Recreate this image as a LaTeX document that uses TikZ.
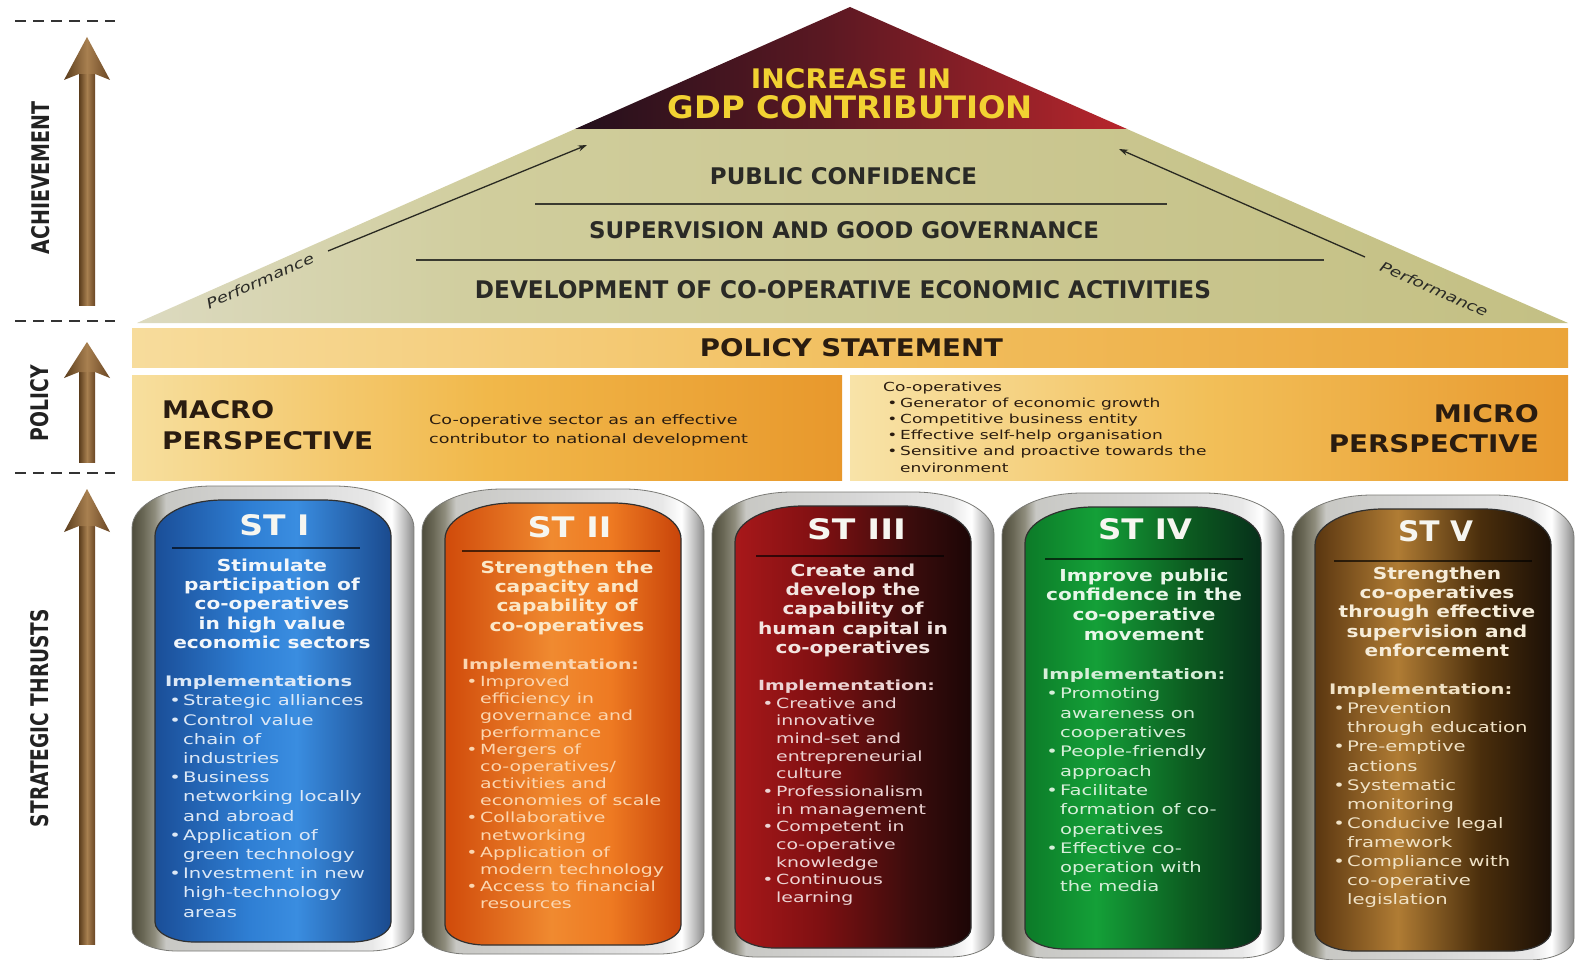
\documentclass[tikz,border=0pt]{standalone}
\usepackage{fontspec}
\setmainfont{DejaVu Sans}
\usepackage{graphicx}
\usetikzlibrary{arrows.meta}

\definecolor{tdark}{HTML}{24101C}
\definecolor{tmid}{HTML}{5A1822}
\definecolor{tred}{HTML}{B8262C}
\definecolor{gdpy}{HTML}{F2D232}
\definecolor{ol1}{HTML}{DCDAC0}
\definecolor{ol2}{HTML}{D0CD9C}
\definecolor{ol3}{HTML}{C4C084}
\definecolor{pb1}{HTML}{F7DC9C}
\definecolor{pb2}{HTML}{F2C060}
\definecolor{pb3}{HTML}{EBA53A}
\definecolor{m1}{HTML}{F7DF9E}
\definecolor{m2}{HTML}{F1B84A}
\definecolor{m3}{HTML}{E8982C}
\definecolor{u1}{HTML}{F8E3A8}
\definecolor{u2}{HTML}{F2BF58}
\definecolor{u3}{HTML}{E89A30}
\definecolor{fr0}{HTML}{4E4C3C}
\definecolor{fr1}{HTML}{6A6856}
\definecolor{fr2}{HTML}{8E8C7C}
\definecolor{fr3}{HTML}{C8C8C4}
\definecolor{fr4}{HTML}{D6D6D6}
\definecolor{fr5}{HTML}{E8E8E8}
\definecolor{fr6}{HTML}{FFFFFF}
\definecolor{fr7}{HTML}{B8B8B8}
\definecolor{fr8}{HTML}{8A8A8A}
\definecolor{b0}{HTML}{1A4E98}
\definecolor{b1}{HTML}{2F7FD4}
\definecolor{b2}{HTML}{3A8DE0}
\definecolor{b3}{HTML}{1A4A8E}
\definecolor{o0}{HTML}{D04A0A}
\definecolor{o1}{HTML}{F08A30}
\definecolor{o2}{HTML}{EE7A22}
\definecolor{o3}{HTML}{C8440A}
\definecolor{r0}{HTML}{A8181A}
\definecolor{r1}{HTML}{801012}
\definecolor{r2}{HTML}{3A0C0C}
\definecolor{r3}{HTML}{1C0606}
\definecolor{g0}{HTML}{0C7A28}
\definecolor{g1}{HTML}{14A038}
\definecolor{g2}{HTML}{0C5A20}
\definecolor{g3}{HTML}{06301A}
\definecolor{w0}{HTML}{5A3610}
\definecolor{w1}{HTML}{B07C34}
\definecolor{w2}{HTML}{4A2E0C}
\definecolor{w3}{HTML}{1C1006}
\definecolor{sh0}{HTML}{5A3C1C}
\definecolor{sh1}{HTML}{A88050}
\definecolor{sh2}{HTML}{6A4624}
\definecolor{hdtext}{HTML}{2A2A26}
\definecolor{poltext}{HTML}{2A1C10}
\definecolor{labcol}{HTML}{222222}
\definecolor{dashcol}{HTML}{333333}
\definecolor{perfcol}{HTML}{2A2A22}
\definecolor{sepcol}{HTML}{3A3A30}
\definecolor{frline}{HTML}{7A7A76}
\definecolor{inline}{HTML}{303030}
\definecolor{stwhite}{HTML}{F6F6F0}
\definecolor{t1}{HTML}{F2F6FA}
\definecolor{c1}{HTML}{DCE8F6}
\definecolor{t2}{HTML}{FBE8C8}
\definecolor{c2}{HTML}{FBD6B0}
\definecolor{t3}{HTML}{F2E4E0}
\definecolor{c3}{HTML}{ECD4D4}
\definecolor{t4}{HTML}{E8F6E8}
\definecolor{c4}{HTML}{D6EED8}
\definecolor{t5}{HTML}{F6ECD8}
\definecolor{c5}{HTML}{F0E2C6}

% the path's box spans 25bp..75bp of a 100bp shading
\pgfdeclarehorizontalshading{darktri}{100bp}{color(0bp)=(tdark); color(25bp)=(tdark); color(47.5bp)=(tmid); color(75bp)=(tred); color(100bp)=(tred)}
\pgfdeclarehorizontalshading{olive}{100bp}{color(0bp)=(ol1); color(25bp)=(ol1); color(37.5bp)=(ol2); color(75bp)=(ol3); color(100bp)=(ol3)}
\pgfdeclarehorizontalshading{polbar}{100bp}{color(0bp)=(pb1); color(25bp)=(pb1); color(50bp)=(pb2); color(75bp)=(pb3); color(100bp)=(pb3)}
\pgfdeclarehorizontalshading{macro}{100bp}{color(0bp)=(m1); color(25bp)=(m1); color(50bp)=(m2); color(75bp)=(m3); color(100bp)=(m3)}
\pgfdeclarehorizontalshading{micro}{100bp}{color(0bp)=(u1); color(25bp)=(u1); color(50bp)=(u2); color(75bp)=(u3); color(100bp)=(u3)}
\pgfdeclarehorizontalshading{frame}{100bp}{color(0bp)=(fr0); color(25bp)=(fr0); color(27bp)=(fr1); color(29bp)=(fr2); color(31bp)=(fr3); color(50bp)=(fr4); color(67.5bp)=(fr5); color(71bp)=(fr6); color(73.5bp)=(fr7); color(75bp)=(fr8); color(100bp)=(fr8)}
\pgfdeclarehorizontalshading{pblue}{100bp}{color(0bp)=(b0); color(25bp)=(b0); color(45bp)=(b1); color(55bp)=(b2); color(75bp)=(b3); color(100bp)=(b3)}
\pgfdeclarehorizontalshading{porange}{100bp}{color(0bp)=(o0); color(25bp)=(o0); color(47.5bp)=(o1); color(60bp)=(o2); color(75bp)=(o3); color(100bp)=(o3)}
\pgfdeclarehorizontalshading{pred}{100bp}{color(0bp)=(r0); color(25bp)=(r0); color(42.5bp)=(r1); color(62.5bp)=(r2); color(75bp)=(r3); color(100bp)=(r3)}
\pgfdeclarehorizontalshading{pgreen}{100bp}{color(0bp)=(g0); color(25bp)=(g0); color(40bp)=(g1); color(60bp)=(g2); color(75bp)=(g3); color(100bp)=(g3)}
\pgfdeclarehorizontalshading{pbrown}{100bp}{color(0bp)=(w0); color(25bp)=(w0); color(42.5bp)=(w1); color(60bp)=(w2); color(75bp)=(w3); color(100bp)=(w3)}
\pgfdeclarehorizontalshading{shaft}{100bp}{color(0bp)=(sh0); color(25bp)=(sh0); color(50bp)=(sh1); color(75bp)=(sh2); color(100bp)=(sh2)}

\newcommand{\fitc}[3]{\resizebox{#1pt}{#2pt}{\bfseries #3}}
\newcommand{\bu}{\makebox[13.3pt][l]{\hspace{3pt}\textbullet}}
\newcommand{\mbu}{\makebox[12.5pt][l]{\hspace{3pt}\textbullet}}
\newcommand{\impl}[1]{\multicolumn{2}{@{}l@{}}{\bfseries #1}}
\newcommand{\pbody}[3]{\scalebox{1.35}[1]{\fontsize{#1}{#2}\selectfont\begin{tabular}[t]{@{}l@{}l@{}}#3\end{tabular}}}
\newcommand{\ptitle}[2]{\scalebox{1.22}[1]{\fontsize{16.5}{#1}\selectfont\bfseries\begin{tabular}[t]{@{}c@{}}#2\end{tabular}}}
% capsule with elliptical corners: options, L, T, R, B, top rx, top ry, bottom rx, bottom ry
\newcommand{\capfill}[9]{\path[#1] (#2,#3+#7) .. controls (#2,#3+0.448*#7) and (#2+0.448*#6,#3) .. (#2+#6,#3) -- (#4-#6,#3) .. controls (#4-0.448*#6,#3) and (#4,#3+0.448*#7) .. (#4,#3+#7) -- (#4,#5-#9) .. controls (#4,#5-0.448*#9) and (#4-0.448*#8,#5) .. (#4-#8,#5) -- (#2+#8,#5) .. controls (#2+0.448*#8,#5) and (#2,#5-0.448*#9) .. (#2,#5-#9) -- cycle;}
\newcommand{\pillar}[3]{%
  \capfill{shade, shading=frame, draw=frline, line width=0.8pt}{#1-141}{#2}{#1+141}{#2+465}{80}{42}{45}{22}
  \capfill{shade, shading=#3, draw=inline, line width=1.2pt}{#1-118}{#2+14}{#1+118}{#2+456}{68}{36}{40}{20}
}
\newcommand{\bigarrow}[3]{%
  \shade[shading=shaft] (79,#2) rectangle (95,#3);
  \shade[shading=shaft] (87,#1) -- (110,#2+6) -- (95,#2) -- (79,#2) -- (64,#2+6) -- cycle;
}

\tikzset{
  hd/.style={inner sep=0pt, text=hdtext},
  pol/.style={inner sep=0pt, text=poltext},
  ttl/.style={inner sep=0pt, anchor=base},
  bdy/.style={inner sep=0pt, anchor=base west},
  sthd/.style={inner sep=0pt, text=stwhite},
  vlabel/.style={inner sep=0pt, rotate=90, text=labcol},
  perf/.style={line width=1.3pt, draw=perfcol, -{Stealth[length=9pt,width=6pt]}},
  dashln/.style={draw=dashcol, line width=1.6pt, dash pattern=on 11pt off 7pt},
  sepln/.style={draw=sepcol, line width=2pt},
  stsep/.style={draw=black, opacity=0.65, line width=1.8pt},
}

\begin{document}
\begin{tikzpicture}[x=1pt,y=-1pt]
\fill[white] (0,0) rectangle (1591,960);
\useasboundingbox (0,0) rectangle (1591,960);
\begin{scope}
\clip (0,0) rectangle (1591,960);

% ---------- left column ----------
\draw[dashln] (15,21) -- (115,21);
\draw[dashln] (15,321) -- (115,321);
\draw[dashln] (15,473) -- (115,473);
\bigarrow{37}{74}{305}
\bigarrow{342}{372}{462}
\bigarrow{489}{526}{944}
\node[vlabel] (lach) at (41,178) {\fitc{153}{18}{ACHIEVEMENT}};
\node[vlabel] (lpol) at (40,403) {\fitc{76}{18}{POLICY}};
\node[vlabel] (lstr) at (40,718) {\fitc{218}{18}{STRATEGIC THRUSTS}};

% ---------- pyramid ----------
\shade[shading=olive] (575,129) -- (1127,129) -- (1568,323) -- (137,323) -- cycle;
\shade[shading=darktri] (850,7) -- (1127,129) -- (575,129) -- cycle;
\node[inner sep=0pt, text=gdpy] (inc) at (851,79) {\fitc{200}{20}{INCREASE IN}};
\node[inner sep=0pt, text=gdpy] (gdp) at (850.5,107) {\fitc{365}{23}{GDP CONTRIBUTION}};
\node[hd] (pubc) at (843.5,176) {\fitc{267}{17}{PUBLIC CONFIDENCE}};
\draw[sepln] (535,204) -- (1167,204);
\node[hd] (supg) at (844,230) {\fitc{510}{17}{SUPERVISION AND GOOD GOVERNANCE}};
\draw[sepln] (416,260) -- (1324,260);
\node[hd] (devc) at (843,290) {\fitc{736}{18}{DEVELOPMENT OF CO-OPERATIVE ECONOMIC ACTIVITIES}};

\coordinate (pl0) at (328,251);
\coordinate (pl1) at (587,145);
\draw[perf] (pl0) -- (pl1);
\coordinate (pr0) at (1365,257);
\coordinate (pr1) at (1119,149);
\draw[perf] (pr0) -- (pr1);
\node[inner sep=0pt, text=hdtext, rotate=24] (perfl) at (260,281) {\fontsize{14}{16}\selectfont\scalebox{1.3}[1]{\itshape Performance}};
\node[inner sep=0pt, text=hdtext, rotate=-24] (perfr) at (1434,289) {\fontsize{14}{16}\selectfont\scalebox{1.3}[1]{\itshape Performance}};

% ---------- policy ----------
\shade[shading=polbar] (132,328) rectangle (1568,367);
\node[pol] (pst) at (851.5,348) {\fitc{303}{18}{POLICY STATEMENT}};
\shade[shading=macro] (132,375) rectangle (842,480);
\shade[shading=micro] (850,375) rectangle (1568,480);
\node[pol, anchor=west] (mac1) at (162,410) {\fitc{112}{18}{MACRO}};
\node[pol, anchor=west] (mac2) at (162,441) {\fitc{211}{18}{PERSPECTIVE}};
\node[pol, anchor=base west] (macd) at (429,424.5) {\scalebox{1.35}[1]{\fontsize{13}{19}\selectfont\begin{tabular}[t]{@{}l@{}}Co-operative sector as an effective\\contributor to national development\end{tabular}}};
\node[pol, anchor=east] (mic1) at (1539,414) {\fitc{105}{18}{MICRO}};
\node[pol, anchor=east] (mic2) at (1539,444) {\fitc{210}{18}{PERSPECTIVE}};
\node[pol, anchor=base west] (micd) at (883,391) {\scalebox{1.36}[1]{\fontsize{12.5}{16.2}\selectfont\begin{tabular}[t]{@{}l@{}l@{}}\multicolumn{2}{@{}l@{}}{Co-operatives}\\
\mbu&Generator of economic growth\\
\mbu&Competitive business entity\\
\mbu&Effective self-help organisation\\
\mbu&Sensitive and proactive towards the\\
&environment\end{tabular}}};

% ---------- pillars ----------
\pillar{273}{486}{pblue}
\pillar{563}{489}{porange}
\pillar{853}{492}{pred}
\pillar{1143}{493}{pgreen}
\pillar{1433}{495}{pbrown}

% ST I
\node[sthd] (st1) at (274.5,525.5) {\fitc{70}{21}{ST I}};
\draw[stsep] (172,548) -- (360,548);
\node[ttl, text=t1] (st1t) at (272,571.3) {\ptitle{19.3}{Stimulate\\participation of\\co-operatives\\in high value\\economic sectors}};
\node[bdy, text=c1] (st1b) at (165,686.6) {\pbody{14.5}{19.2}{\impl{Implementations}\\
\bu&Strategic alliances\\
\bu&Control value\\
&chain of\\
&industries\\
\bu&Business\\
&networking locally\\
&and abroad\\
\bu&Application of\\
&green technology\\
\bu&Investment in new\\
&high-technology\\
&areas}};

% ST II
\node[sthd] (st2) at (569.5,527.5) {\fitc{84}{21}{ST II}};
\draw[stsep] (462,551) -- (660,551);
\node[ttl, text=t2] (st2t) at (567,573.3) {\ptitle{19.3}{Strengthen the\\capacity and\\capability of\\co-operatives}};
\node[bdy, text=c2] (st2b) at (462,669.5) {\pbody{14}{17.05}{\impl{Implementation:}\\
\bu&Improved\\
&efficiency in\\
&governance and\\
&performance\\
\bu&Mergers of\\
&co-operatives/\\
&activities and\\
&economies of scale\\
\bu&Collaborative\\
&networking\\
\bu&Application of\\
&modern technology\\
\bu&Access to financial\\
&resources}};

% ST III
\node[sthd] (st3) at (856.5,529.5) {\fitc{99}{21}{ST III}};
\draw[stsep] (756,556) -- (944,556);
\node[ttl, text=t3] (st3t) at (853,576.3) {\ptitle{19.3}{Create and\\develop the\\capability of\\human capital in\\co-operatives}};
\node[bdy, text=c3] (st3b) at (758,690.5) {\pbody{14}{17.65}{\impl{Implementation:}\\
\bu&Creative and\\
&innovative\\
&mind-set and\\
&entrepreneurial\\
&culture\\
\bu&Professionalism\\
&in management\\
\bu&Competent in\\
&co-operative\\
&knowledge\\
\bu&Continuous\\
&learning}};

% ST IV
\node[sthd] (st4) at (1145,529.5) {\fitc{94}{21}{ST IV}};
\draw[stsep] (1045,559) -- (1243,559);
\node[ttl, text=t4] (st4t) at (1144,581.3) {\ptitle{19.6}{Improve public\\confidence in the\\co-operative\\movement}};
\node[bdy, text=c4] (st4b) at (1042,679.6) {\pbody{14.5}{19.3}{\impl{Implementation:}\\
\bu&Promoting\\
&awareness on\\
&cooperatives\\
\bu&People-friendly\\
&approach\\
\bu&Facilitate\\
&formation of co-\\
&operatives\\
\bu&Effective co-\\
&operation with\\
&the media}};

% ST V
\node[sthd] (st5) at (1435.5,531.5) {\fitc{75}{21}{ST V}};
\draw[stsep] (1334,561) -- (1532,561);
\node[ttl, text=t5] (st5t) at (1437,579.3) {\ptitle{19.3}{Strengthen\\co-operatives\\through effective\\supervision and\\enforcement}};
\node[bdy, text=c5] (st5b) at (1329,694.6) {\pbody{14.5}{19.1}{\impl{Implementation:}\\
\bu&Prevention\\
&through education\\
\bu&Pre-emptive\\
&actions\\
\bu&Systematic\\
&monitoring\\
\bu&Conducive legal\\
&framework\\
\bu&Compliance with\\
&co-operative\\
&legislation}};
\end{scope}
\end{tikzpicture}
\end{document}
